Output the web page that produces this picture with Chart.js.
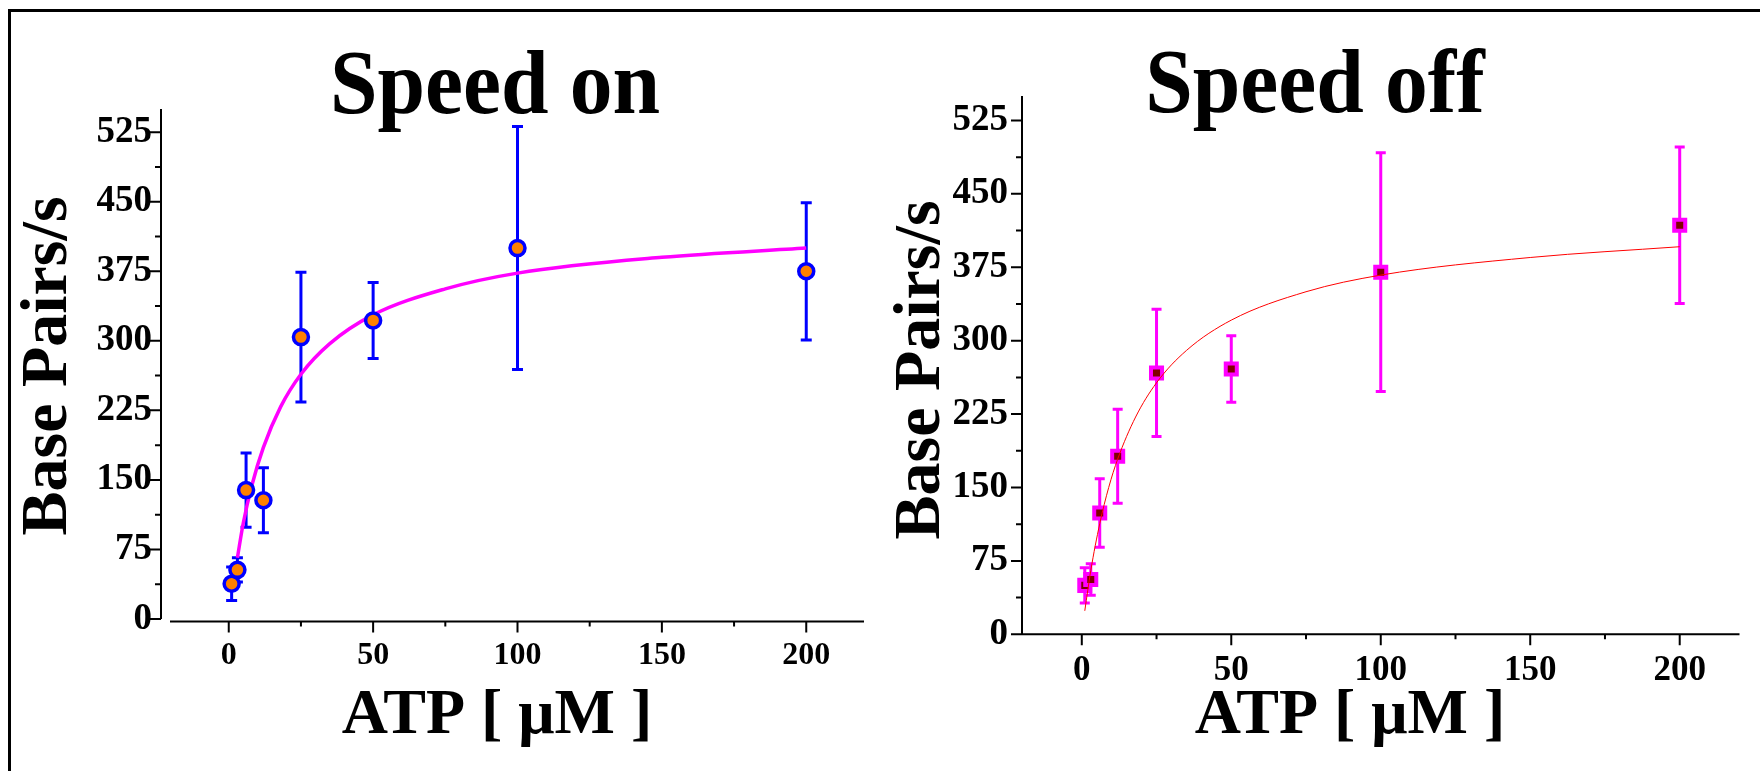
<!DOCTYPE html>
<html>
<head>
<meta charset="utf-8">
<script src="https://cdn.jsdelivr.net/npm/chart.js@4.4.1/dist/chart.umd.min.js"></script>
<style>
  html, body { margin: 0; padding: 0; background: #fff; }
  body { width: 1760px; height: 771px; position: relative; overflow: hidden; }
  .frame { position: absolute; left: 8px; top: 9px; right: 0; bottom: 0; border-top: 3px solid #000; border-left: 3px solid #000; }
  .panel { position: absolute; top: 0; width: 880px; height: 771px; }
</style>
</head>
<body>
<div class="frame"></div>
<div class="panel" style="left:0"><canvas id="chartOn"></canvas></div>
<div class="panel" style="left:880px"><canvas id="chartOff"></canvas></div>
<script>
// ATP concentrations (uM) and measured speeds (bp/s) with error bars
const atpConc = [1, 3, 6, 12, 25, 50, 100, 200];
const speedOn = [38, 53, 139, 128, 304, 322, 400, 375];
const errOn = [18, 13, 40, 35, 70, 41, 131, 74];
const speedOff = [50, 56, 124, 182, 267, 271, 370, 418];
const errOff = [18, 16, 35, 48, 65, 34, 122, 80];

// fitted curves
const fitOnX = [3, 5, 8, 12, 18, 25, 35, 50, 75, 100, 150, 200];
const fitOnY = [66, 103, 144, 185, 229, 264, 297, 328, 356, 373, 390, 400];
const fitOffX = [1, 3, 6, 9, 12, 18, 25, 35, 50, 75, 100, 150, 200];
const fitOffY = [24, 65, 113, 150, 179, 222, 257, 290, 321, 350, 367, 385, 396];

const xTicks = [0, 50, 100, 150, 200];
const xMinor = [25, 75, 125, 175];
const yTicks = [0, 75, 150, 225, 300, 375, 450, 525];
const yMinor = [37.5, 112.5, 187.5, 262.5, 337.5, 412.5, 487.5];

const FONT = '"Liberation Serif", "Times New Roman", serif';

const errorBars = {
  id: 'errorBars',
  beforeDatasetsDraw(chart) {
    const { ctx, scales: { x, y } } = chart;
    chart.data.datasets.forEach((ds) => {
      if (!ds.errors) return;
      ctx.save();
      ctx.strokeStyle = ds.errorColor;
      ctx.lineWidth = 3;
      ds.data.forEach((p, j) => {
        const px = x.getPixelForValue(p.x);
        const top = y.getPixelForValue(p.y + ds.errors[j]);
        const bot = y.getPixelForValue(p.y - ds.errors[j]);
        const c = ds.capWidth / 2;
        ctx.beginPath();
        ctx.moveTo(px, top); ctx.lineTo(px, bot);
        ctx.moveTo(px - c, top); ctx.lineTo(px + c, top);
        ctx.moveTo(px - c, bot); ctx.lineTo(px + c, bot);
        ctx.stroke();
      });
      ctx.restore();
    });
  }
};

// plain axes like the original: separate lines, ticks pointing outward
const plainAxes = {
  id: 'plainAxes',
  beforeDatasetsDraw(chart, args, o) {
    const { ctx, chartArea: a, scales: { x, y } } = chart;
    const yx = a.left - o.yGap;
    const xy = a.bottom + o.xGap;
    ctx.save();
    ctx.strokeStyle = '#000';
    ctx.lineWidth = 2;
    ctx.beginPath();
    ctx.moveTo(yx, a.top); ctx.lineTo(yx, y.getPixelForValue(0));
    ctx.moveTo(a.left - o.xStart, xy); ctx.lineTo(a.right, xy);
    yTicks.forEach((v) => { const py = y.getPixelForValue(v); ctx.moveTo(yx - 11, py); ctx.lineTo(yx, py); });
    yMinor.forEach((v) => { const py = y.getPixelForValue(v); ctx.moveTo(yx - 6, py); ctx.lineTo(yx, py); });
    xTicks.forEach((v) => { const px = x.getPixelForValue(v); ctx.moveTo(px, xy); ctx.lineTo(px, xy + 11); });
    xMinor.forEach((v) => { const px = x.getPixelForValue(v); ctx.moveTo(px, xy); ctx.lineTo(px, xy + 5); });
    ctx.stroke();
    ctx.restore();
  }
};

const panelText = {
  id: 'panelText',
  afterDraw(chart, args, o) {
    const ctx = chart.ctx;
    ctx.save();
    ctx.fillStyle = '#000';
    ctx.textAlign = 'center';
    ctx.textBaseline = 'alphabetic';
    ctx.save();
    ctx.translate(o.titleX, o.titleY);
    ctx.scale(0.95, 1);
    ctx.font = `bold ${o.titleSize}px ${FONT}`;
    ctx.fillText(o.title, 0, 0);
    ctx.restore();
    ctx.font = `bold ${o.xTitleSize}px ${FONT}`;
    ctx.fillText(o.xTitle, o.xTitleX, o.xTitleY);
    ctx.translate(o.yTitleX, o.yTitleY);
    ctx.rotate(-Math.PI / 2);
    ctx.font = `bold ${o.yTitleSize}px ${FONT}`;
    ctx.fillText(o.yTitle, 0, 0);
    ctx.restore();
  }
};

function makePanel(id, p) {
  const points = atpConc.map((v, i) => ({ x: v, y: p.speed[i] }));
  const curve = p.fitX.map((v, i) => ({ x: v, y: p.fitY[i] }));
  return new Chart(document.getElementById(id), {
    type: 'scatter',
    data: {
      datasets: [
        {
          type: 'line',
          data: curve,
          borderColor: p.curveColor,
          borderWidth: p.curveWidth,
          pointRadius: 0,
          cubicInterpolationMode: 'monotone',
          fill: false,
          order: p.curveOrder,
        },
        {
          data: points,
          errors: p.err,
          errorColor: p.errColor,
          capWidth: p.capWidth,
          pointStyle: p.pointStyle,
          pointRadius: p.pointRadius,
          pointBackgroundColor: p.pointFill,
          pointBorderColor: p.pointBorder,
          pointBorderWidth: p.pointBorderWidth,
          order: p.pointOrder,
        },
      ],
    },
    options: {
      responsive: true,
      maintainAspectRatio: false,
      animation: false,
      layout: { padding: { left: 0, right: p.padRight, top: p.padTop, bottom: 0 } },
      plugins: {
        legend: { display: false },
        tooltip: { enabled: false },
        plainAxes: p.axes,
        panelText: p.text,
      },
      scales: {
        x: {
          type: 'linear',
          min: -20,
          max: 220,
          grid: { display: false, drawTicks: false },
          border: { display: false },
          afterBuildTicks: (s) => { s.ticks = xTicks.map((v) => ({ value: v })); },
          afterFit: (s) => { s.height = p.xHeight; },
          ticks: { color: '#000', padding: p.xPad, font: { family: FONT, size: p.xFont, weight: 'bold' } },
        },
        y: {
          type: 'linear',
          min: 0,
          max: 550,
          grid: { display: false, drawTicks: false },
          border: { display: false },
          afterBuildTicks: (s) => { s.ticks = yTicks.map((v) => ({ value: v })); },
          afterFit: (s) => { s.width = p.yWidth; },
          ticks: { color: '#000', padding: p.yPad, font: { family: FONT, size: 37, weight: 'bold' } },
        },
      },
    },
    plugins: [plainAxes, errorBars, panelText],
  });
}

makePanel('chartOn', {
  speed: speedOn, err: errOn, fitX: fitOnX, fitY: fitOnY,
  curveColor: '#ff00ff', curveWidth: 3.5, curveOrder: 2,
  errColor: '#0000ff', capWidth: 11,
  pointStyle: 'circle', pointRadius: 7.5, pointFill: '#ff8000', pointBorder: '#0000ff', pointBorderWidth: 3.5, pointOrder: 1,
  padRight: 16, padTop: 109, xHeight: 152, yWidth: 171, xPad: 18, xFont: 32, yPad: 19,
  axes: { yGap: 10, xGap: 2.5, xStart: 1 },
  text: {
    title: 'Speed on', titleSize: 90, titleX: 495, titleY: 113,
    xTitle: 'ATP [ μM ]', xTitleSize: 64, xTitleX: 497, xTitleY: 733,
    yTitle: 'Base Pairs/s', yTitleSize: 66, yTitleX: 66, yTitleY: 366,
  },
});

makePanel('chartOff', {
  speed: speedOff, err: errOff, fitX: fitOffX, fitY: fitOffY,
  curveColor: '#ff0000', curveWidth: 1, curveOrder: 1,
  errColor: '#ff00ff', capWidth: 10,
  pointStyle: 'rect', pointRadius: 7.8, pointFill: '#800000', pointBorder: '#ff00ff', pointBorderWidth: 4, pointOrder: 2,
  padRight: 20.5, padTop: 96, xHeight: 136.7, yWidth: 142, xPad: 15.5, xFont: 35, yPad: 14,
  axes: { yGap: 0, xGap: 0, xStart: 0 },
  text: {
    title: 'Speed off', titleSize: 90, titleX: 435, titleY: 112,
    xTitle: 'ATP [ μM ]', xTitleSize: 64, xTitleX: 470, xTitleY: 733,
    yTitle: 'Base Pairs/s', yTitleSize: 66, yTitleX: 59, yTitleY: 370,
  },
});
</script>
</body>
</html>
